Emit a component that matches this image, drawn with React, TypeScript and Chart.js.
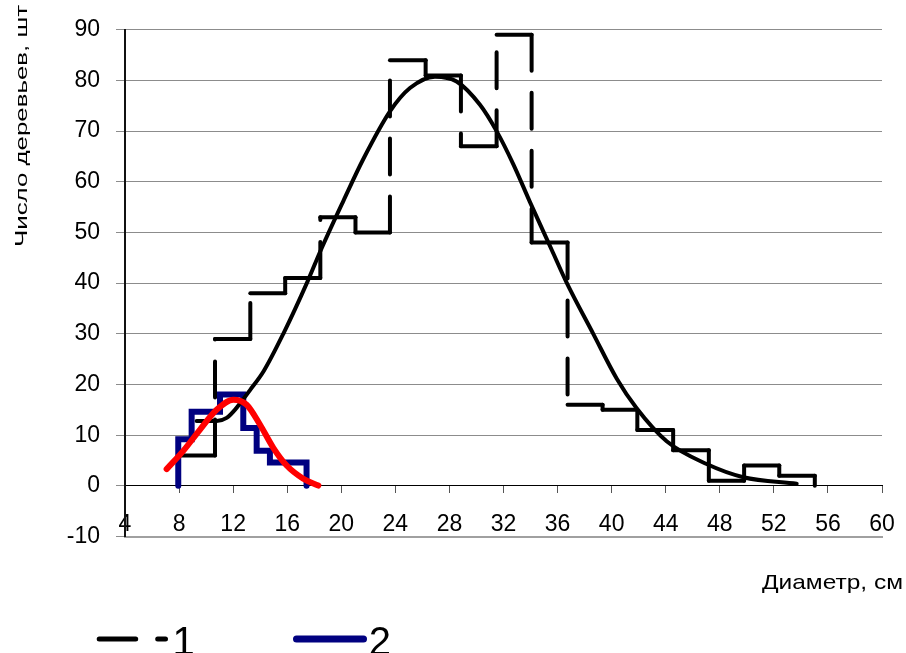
import React, { useEffect, useRef } from 'react';
import { Chart, registerables } from 'chart.js';

Chart.register(...registerables);

const FONT = 'Liberation Sans';

// Axis ranges and tick steps
const xRange = [4, 60];
const yRange = [-10, 90];
const xStep = 4;
const yStep = 10;

// Texts
const yTitle = 'Число деревьев, шт';
const xTitle = 'Диаметр, см';
const legendLabels = ['1', '2'];

// Series 1: histogram (bin edges and counts), dashed step outline
const hist1Edges = [8.05, 10.66, 13.27, 15.85, 18.45, 21.05, 23.6, 26.24, 28.85, 31.49, 34.08, 36.74, 39.33, 41.9, 44.55, 47.19, 49.8, 52.4, 55.03];
const hist1Counts = [6, 29, 38, 41, 53, 50, 84, 81, 67, 89, 48, 16, 15, 11, 7, 1, 4, 2];

// Series 2: histogram (bin edges and counts), blue step outline
const hist2Edges = [7.94, 8.93, 11.03, 12.75, 13.74, 14.72, 17.43];
const hist2Counts = [9.2, 14.6, 18.0, 11.4, 6.9, 4.6];

// Fitted curve for series 1 (black)
const curve1X = [9.3, 10.78, 11.52, 12.13, 12.63, 13.25, 14.23, 15.71, 17.5, 18.45, 20.15, 21.63, 23.6, 25.08, 26.93, 28.53, 30.26, 31.49, 32.72, 33.96, 35.68, 36.67, 38.64, 40.37, 41.85, 44.07, 47.03, 49.74, 53.69];
const curve1Y = [12.8, 12.8, 13.4, 15.0, 16.7, 18.9, 22.5, 30.0, 40.3, 46.3, 56.2, 64.5, 73.9, 78.5, 80.75, 79.8, 75.2, 70.0, 63.5, 56.0, 45.9, 40.1, 30.0, 21.2, 15.3, 8.8, 4.3, 1.7, 0.4];

// Fitted curve for series 2 (red)
const curve2X = [7.08, 8.31, 9.55, 10.78, 12.01, 13.0, 13.98, 14.97, 15.96, 17.19, 18.3];
const curve2Y = [3.3, 6.9, 11.1, 15.0, 17.0, 16.0, 12.1, 7.5, 4.0, 1.4, 0.05];

function stepsFromBins(edges: number[], counts: number[], fromZero: boolean) {
  const pts: { x: number; y: number }[] = [];
  if (fromZero) pts.push({ x: edges[0], y: 0 });
  pts.push({ x: edges[0], y: counts[0] });
  for (let i = 0; i < counts.length; i++) {
    pts.push({ x: edges[i + 1], y: counts[i] });
    pts.push({ x: edges[i + 1], y: i + 1 < counts.length ? counts[i + 1] : 0 });
  }
  return pts;
}

function zipXY(xs: number[], ys: number[]) {
  return xs.map((x, i) => ({ x, y: ys[i] }));
}

function drawFittedText(
  ctx: CanvasRenderingContext2D,
  text: string,
  size: number,
  x: number,
  y: number,
  width: number,
  rotate: boolean,
  align: CanvasTextAlign
) {
  ctx.save();
  ctx.font = `${size}px "${FONT}"`;
  ctx.fillStyle = '#000';
  ctx.textBaseline = 'alphabetic';
  ctx.textAlign = align;
  const w = ctx.measureText(text).width;
  ctx.translate(x, y);
  if (rotate) ctx.rotate(-Math.PI / 2);
  ctx.scale(width / w, 1);
  ctx.fillText(text, 0, 0);
  ctx.restore();
}

const textPlugin = {
  id: 'textPlugin',
  afterDraw(chart: any) {
    const ctx: CanvasRenderingContext2D = chart.ctx;
    // Y axis title (rotated)
    drawFittedText(ctx, yTitle, 16.5, 26.5, 126, 242, true, 'center');
    // X axis title
    drawFittedText(ctx, xTitle, 21, 762, 588.5, 141, false, 'left');

    // Legend
    ctx.save();
    ctx.lineCap = 'round';
    ctx.strokeStyle = '#000';
    ctx.lineWidth = 5;
    ctx.setLineDash([36.5, 22]);
    ctx.beginPath();
    ctx.moveTo(99.2, 639);
    ctx.lineTo(165.5, 639);
    ctx.stroke();
    ctx.setLineDash([]);
    ctx.strokeStyle = '#000080';
    ctx.lineWidth = 7;
    ctx.beginPath();
    ctx.moveTo(296.5, 639);
    ctx.lineTo(363.5, 639);
    ctx.stroke();
    ctx.fillStyle = '#000';
    ctx.font = `40px "${FONT}"`;
    ctx.textBaseline = 'alphabetic';
    ctx.textAlign = 'left';
    ctx.fillText(legendLabels[0], 172.5, 654.5);
    ctx.fillText(legendLabels[1], 368.8, 654.5);
    ctx.restore();
  },
};

export default function App() {
  const ref = useRef<HTMLCanvasElement>(null);

  useEffect(() => {
    const canvas = ref.current;
    if (!canvas) return;
    Chart.defaults.font.family = FONT;

    const chart = new Chart(canvas, {
      type: 'line',
      data: {
        datasets: [
          {
            label: legendLabels[0],
            data: stepsFromBins(hist1Edges, hist1Counts, false),
            borderColor: '#000',
            borderWidth: 4,
            borderDash: [36, 22],
            borderCapStyle: 'round',
            borderJoinStyle: 'round',
            pointRadius: 0,
            tension: 0,
            fill: false,
            order: 3,
            segment: {
              borderDashOffset: (c: any) => (c.p0DataIndex % 2 === 0 ? 0 : 0.01),
            },
          } as any,
          {
            label: legendLabels[1],
            data: stepsFromBins(hist2Edges, hist2Counts, true),
            borderColor: '#000080',
            borderWidth: 6,
            borderCapStyle: 'round',
            borderJoinStyle: 'miter',
            pointRadius: 0,
            tension: 0,
            fill: false,
            order: 2,
          },
          {
            label: 'curve1',
            data: zipXY(curve1X, curve1Y),
            borderColor: '#000',
            borderWidth: 4,
            borderCapStyle: 'round',
            pointRadius: 0,
            cubicInterpolationMode: 'monotone',
            fill: false,
            order: 1,
          },
          {
            label: 'curve2',
            data: zipXY(curve2X, curve2Y),
            borderColor: '#ff0000',
            borderWidth: 6,
            borderCapStyle: 'round',
            pointRadius: 0,
            cubicInterpolationMode: 'monotone',
            fill: false,
            order: 0,
          },
        ],
      },
      options: {
        animation: false,
        responsive: false,
        devicePixelRatio: 1,
        layout: { padding: { top: 24, right: 24, bottom: 0, left: 0 } },
        plugins: {
          legend: { display: false },
          tooltip: { enabled: false },
        },
        scales: {
          x: {
            type: 'linear',
            position: 'bottom',
            min: xRange[0],
            max: xRange[1],
            grid: { display: false, drawTicks: false },
            border: { display: true, color: '#a0a0a0', width: 2 },
            ticks: {
              stepSize: xStep,
              autoSkip: false,
              maxRotation: 0,
              minRotation: 0,
              mirror: true,
              padding: -1.5,
              color: '#000',
              font: { family: FONT, size: 23 },
            },
            afterFit: (s: any) => {
              s.height = 116.5;
            },
          },
          x2: {
            type: 'linear',
            position: { y: 0 } as any,
            min: xRange[0],
            max: xRange[1],
            grid: { display: true, drawOnChartArea: false, drawTicks: true, tickLength: 7, color: '#555' },
            border: { display: true, color: '#000', width: 1 },
            ticks: { stepSize: xStep, display: false },
          },
          y: {
            type: 'linear',
            position: 'left',
            min: yRange[0],
            max: yRange[1],
            grid: { color: '#8c8c8c', lineWidth: 1, drawTicks: true, tickLength: 9 },
            border: { display: true, color: '#111', width: 2 },
            ticks: {
              stepSize: yStep,
              padding: 16,
              color: '#000',
              font: { family: FONT, size: 23 },
            },
            afterFit: (s: any) => {
              s.width = 125;
            },
          },
        },
      },
      plugins: [textPlugin],
    } as any);

    return () => chart.destroy();
  }, []);

  return (
    <div style={{ position: 'absolute', left: 0, top: 0, width: 906, height: 653, background: '#fff' }}>
      <canvas ref={ref} width={906} height={653} style={{ display: 'block', width: 906, height: 653 }} />
    </div>
  );
}
